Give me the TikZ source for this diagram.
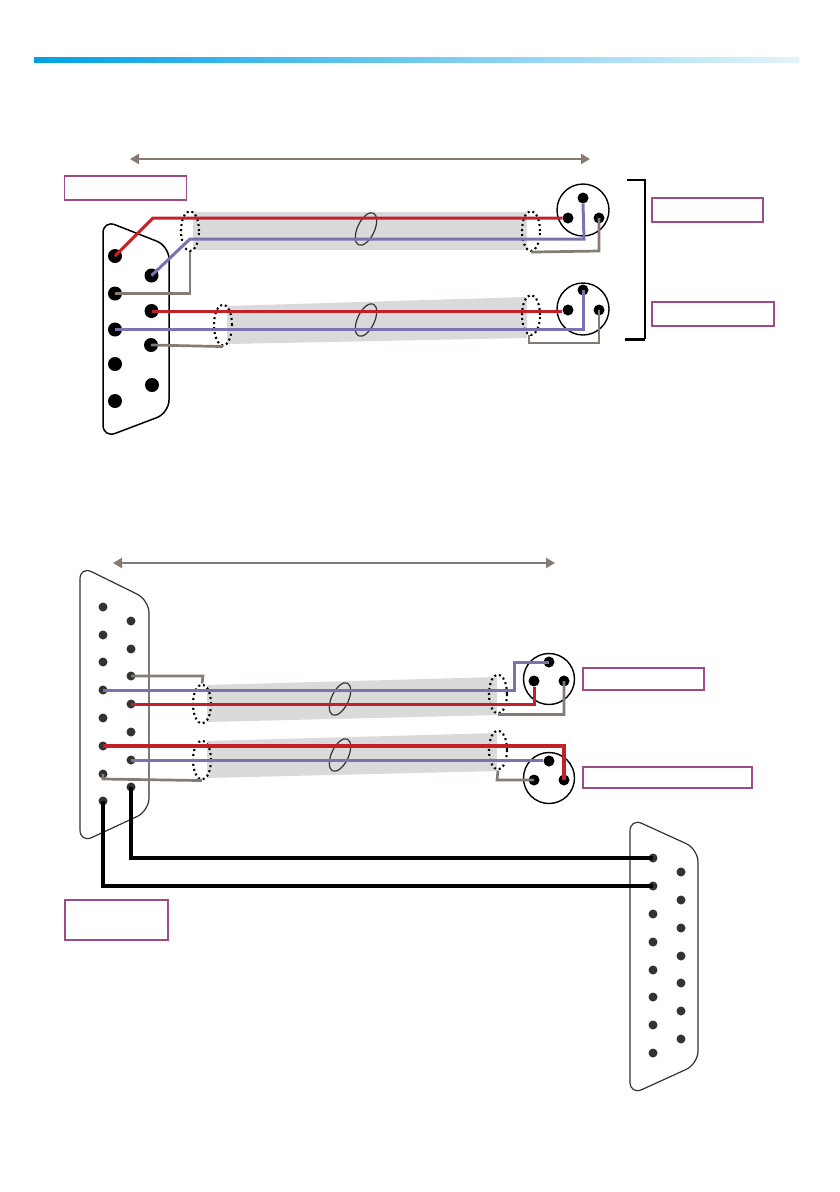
\documentclass[tikz,border=0pt]{standalone}
\usetikzlibrary{shapes.geometric,arrows.meta}
\definecolor{wred}{HTML}{C4202A}
\definecolor{wpurple}{HTML}{7B73B0}
\definecolor{wgray}{HTML}{857B73}
\definecolor{bandgray}{HTML}{D9DADA}
\definecolor{boxpurple}{HTML}{9C4C86}
\definecolor{pindark}{HTML}{333333}
\definecolor{barblue}{HTML}{00A0E3}
\definecolor{barpale}{HTML}{E3F4FB}
\tikzset{
  wirered/.style={draw=wred,line width=3bp,line join=miter},
  wirepurple/.style={draw=wpurple,line width=3bp,line join=miter},
  wiregray/.style={draw=wgray,line width=2.7bp,line join=miter},
  wireblack/.style={draw=black,line width=3.2bp,line join=miter},
  band/.style={fill=bandgray,draw=none},
  shell/.style={draw=black,line width=1.5bp,fill=white},
  shellthin/.style={draw=pindark,line width=1.2bp,fill=white},
  pinbig/.style={circle,fill=black,draw=none,minimum size=14bp,inner sep=0pt},
  pinxlr/.style={circle,fill=black,draw=none,minimum size=11bp,inner sep=0pt},
  pinsmall/.style={circle,fill=pindark,draw=none,minimum size=9bp,inner sep=0pt},
  xlr/.style={circle,draw=black,line width=1.4bp,fill=white,minimum size=52bp,inner sep=0pt},
  shield/.style={ellipse,draw=black,line width=2.1bp,dash pattern=on 2bp off 3bp,minimum width=18bp,minimum height=40bp,inner sep=0pt},
  twist/.style={ellipse,draw=pindark,line width=1.2bp,minimum width=17bp,minimum height=35bp,inner sep=0pt,rotate=-25},
  labelbox/.style={rectangle,draw=boxpurple,line width=1.4bp,inner sep=0pt},
  dimline/.style={draw=wgray,line width=2bp,{Triangle[length=9bp,width=10bp]}-{Triangle[length=9bp,width=10bp]}},
}
\begin{document}
\begin{tikzpicture}[x=1bp,y=-1bp]
\useasboundingbox (0,0) rectangle (840,1192);
\fill[white] (0,0) rectangle (840,1192);
% header bar
\shade[left color=barblue,right color=barpale] (34,57) rectangle (799,62);

% ---------- upper diagram ----------
\coordinate (dimAl) at (130,159);
\coordinate (dimAr) at (590,159);
\draw[dimline] (dimAl) -- (dimAr);
\node[labelbox,minimum width=122bp,minimum height=24bp] (lblA) at (125.5,188) {};
\node[labelbox,minimum width=111bp,minimum height=24bp] (lblB) at (707.5,210) {};
\node[labelbox,minimum width=122bp,minimum height=24bp] (lblC) at (713,314) {};

\fill[band] (193,212) -- (527,212) -- (527,250) -- (193,250) -- cycle;
\fill[band] (227,306) -- (527,297) -- (527,338) -- (227,344) -- cycle;

\draw[shell,rounded corners=13bp] (103,220) -- (169,246) -- (169,413) -- (103,438) -- cycle;

\foreach \n/\x/\y in {1/115/256,2/151.5/275.5,3/115/293.5,4/151.5/311,5/115/329.5,6/151/345,7/115/364,8/152/385,9/115/401}
  \node[pinbig] (a\n) at (\x,\y) {};

\node[xlr] (xa) at (583,210) {};
\node[pinxlr] (xat) at (583,198) {};
\node[pinxlr] (xal) at (568,218) {};
\node[pinxlr] (xar) at (599,218) {};
\node[xlr] (xb) at (583,309) {};
\node[pinxlr] (xbt) at (583,290) {};
\node[pinxlr] (xbl) at (568,310) {};
\node[pinxlr] (xbr) at (599,310) {};

\node[shield] (sa) at (190,231) {};
\node[shield,minimum height=41bp] (sb) at (223,325) {};
\node[shield] (sc) at (531,231) {};
\node[shield] (sd) at (531,315) {};
\node[twist] (ta) at (366,229) {};
\node[twist] (tb) at (366,320) {};

\draw[wirered] (a1.center) -- (153,218) -- (xal.west |- 0,218);
\draw[wirepurple] (a2.center) -- (190,239) -- (584,239) -- (xat.south);
\draw[wiregray] (a3.center) -- (190,293.5) -- (sa.south);
\draw[wiregray] (sc.south) -- (599,251) -- (xar.center);
\draw[wirered] (a4.center) -- (xbl.west |- a4.center);
\draw[wirepurple] (a5.center) -- (583,329.5) -- (xbt.center);
\draw[wiregray] (a6.center) -- (sb.south);
\draw[wiregray] (529,335) -- (529,343) -- (599,343) -- (xbr.center);

\draw[black,line width=2bp] (627,180) -- (645,180) -- (645,339);
\draw[black,line width=3bp] (645,339) -- (625,339);

% ---------- lower diagram ----------
\coordinate (dimBl) at (113,563);
\coordinate (dimBr) at (555,563);
\draw[dimline] (dimBl) -- (dimBr);
\node[labelbox,minimum width=121bp,minimum height=22bp] (lblD) at (643.5,679) {};
\node[labelbox,minimum width=169bp,minimum height=21bp] (lblE) at (667.5,777.5) {};
\node[labelbox,minimum width=103bp,minimum height=40bp] (lblF) at (116.5,920) {};

\fill[band] (207,685) -- (497,677) -- (497,715) -- (207,722) -- cycle;
\fill[band] (207,741) -- (497,733) -- (497,771) -- (207,778) -- cycle;

\draw[shellthin,rounded corners=13bp] (80,566) -- (149,600) -- (149,811) -- (80,843) -- cycle;
\draw[shellthin,rounded corners=13bp] (630,818) -- (698,849) -- (698,1064) -- (630,1095) -- cycle;

\foreach \n/\y in {1/607,2/635,3/662,4/690,5/718,6/746,7/774,8/801}
  \node[pinsmall] (bl\n) at (103,\y) {};
\foreach \n/\y in {1/621,2/649,3/676,4/704,5/732,6/760,7/787}
  \node[pinsmall] (br\n) at (131,\y) {};
\foreach \n/\y in {1/858,2/886,3/914,4/942,5/970,6/997,7/1025,8/1053}
  \node[pinsmall] (cl\n) at (653,\y) {};
\foreach \n/\y in {1/872,2/900,3/928,4/956,5/983,6/1011,7/1039}
  \node[pinsmall] (cr\n) at (681,\y) {};

\node[xlr,minimum size=51bp] (xc) at (549,679) {};
\node[pinxlr] (xct) at (549,662) {};
\node[pinxlr] (xcl) at (534,681) {};
\node[pinxlr] (xcr) at (564,681) {};
\node[xlr,minimum size=51bp] (xd) at (549,778) {};
\node[pinxlr] (xdt) at (549,761) {};
\node[pinxlr] (xdl) at (534,780) {};
\node[pinxlr] (xdr) at (564,780) {};

\node[shield,minimum height=39bp] (se) at (202,704) {};
\node[shield,minimum height=39bp] (sf) at (202,760) {};
\node[shield,minimum height=39bp] (sg) at (498,694) {};
\node[shield,minimum height=39bp] (sh) at (498,750) {};
\node[twist] (tc) at (340,699) {};
\node[twist] (td) at (340,755) {};

\draw[wiregray] (br3.center) -- (203,676) -- (se.north);
\draw[wirepurple] (bl4.center) -- (514,690) -- (514,662) -- (xct.center);
\draw[wirered] (br4.center) -- (534,704) -- (xcl.south);
\draw[wiregray] (sg.south) -- (564,714.5) -- (xcr.center);
\draw[wirered,line width=3.2bp] (bl6.center) -- (564,746) -- (xdr.center);
\draw[wirepurple] (br6.center) -- (xdt.west |- br6.center);
\draw[wiregray] (bl7.center) -- (103,779) -- (sf.south);
\draw[wiregray] (sh.south) -- (497,780) -- (xdl.center);

\draw[wireblack] (br7.center) -- (131,858) -- (cl1.center);
\draw[wireblack] (bl8.center) -- (103,886) -- (cl2.center);
\end{tikzpicture}
\end{document}
